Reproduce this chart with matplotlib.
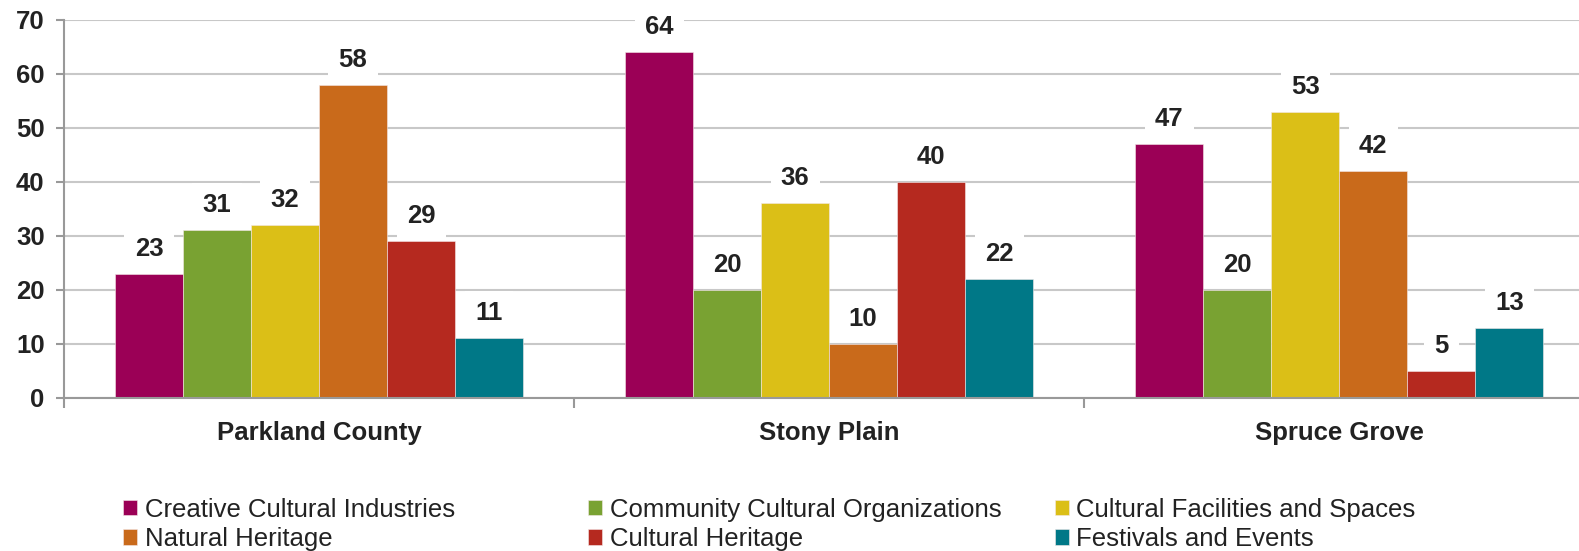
import matplotlib.pyplot as plt
import numpy as np

# data
regions = ['Parkland County', 'Stony Plain', 'Spruce Grove']
series = [
    'Creative Cultural Industries',
    'Community Cultural Organizations',
    'Cultural Facilities and Spaces',
    'Natural Heritage',
    'Cultural Heritage',
    'Festivals and Events',
]
creative = [23, 64, 47]
community = [31, 20, 20]
facilities = [32, 36, 53]
natural = [58, 10, 42]
cultural_heritage = [29, 40, 5]
festivals = [11, 22, 13]
yticks = [0, 10, 20, 30, 40, 50, 60, 70]

colors = ['#9B0056', '#79A232', '#DBBF17', '#C96A1B', '#B5291F', '#007887']
all_values = [creative, community, facilities, natural, cultural_heritage, festivals]

plt.rcParams['font.family'] = ['Liberation Sans', 'DejaVu Sans']

fig = plt.figure(figsize=(15.79, 5.51), dpi=100)
ax = fig.add_axes([0.0405, 0.278, 0.9595, 0.686])

x = np.arange(len(regions))
bar_w = 0.8 / len(series)
handles = []
for i, (vals, col) in enumerate(zip(all_values, colors)):
    pos = x - 0.4 + bar_w * (i + 0.5)
    b = ax.bar(pos, vals, width=bar_w, color=col, edgecolor='#f4e8e8',
               linewidth=0.4, zorder=2, label=series[i])
    handles.append(b)
    for px, v in zip(pos, vals):
        ax.annotate(str(v), (px, v), xytext=(0, 18), textcoords='offset points',
                    ha='center', va='center', fontsize=18.5, fontweight='bold',
                    color='#222222', zorder=3,
                    bbox=dict(boxstyle='square,pad=0.4', fc='white', ec='none'))

ax.set_ylim(0, 70)
ax.set_xlim(-0.5, 2.47)
ax.set_yticks(yticks)
ax.yaxis.grid(True, color='#c8c8c8', linewidth=1.5, zorder=0)
ax.set_axisbelow(True)

ax.set_xticks(x)
ax.set_xticklabels(regions, fontsize=18.5, fontweight='bold', color='#222222')
ax.set_xticks([-0.5, 0.5, 1.5], minor=True)
ax.tick_params(axis='x', which='major', length=0, pad=17)
ax.tick_params(axis='x', which='minor', length=7, width=1.5, color='#999999')
ax.tick_params(axis='y', length=6, width=1.5, color='#999999', labelsize=18.5, pad=8)
for lbl in ax.get_yticklabels():
    lbl.set_fontweight('bold')
    lbl.set_color('#222222')

for s in ['top', 'right']:
    ax.spines[s].set_visible(False)
ax.spines['left'].set_color('#999999')
ax.spines['left'].set_linewidth(1.5)
ax.spines['bottom'].set_color('#999999')
ax.spines['bottom'].set_linewidth(1.5)

# legend, three columns placed separately
col_x = [0.0697, 0.3643, 0.6597]
for c in range(3):
    hs = [handles[c], handles[c + 3]]
    lg = fig.legend(hs, [series[c], series[c + 3]], loc='upper left',
                    bbox_to_anchor=(col_x[c], 0.12), ncol=1, frameon=False,
                    handlelength=0.55, handleheight=0.55,
                    handletextpad=0.3, labelspacing=0.2, borderpad=0,
                    prop={'family': ['Liberation Sans'], 'size': 18.5})
    for t in lg.get_texts():
        t.set_color('#222222')

fig.savefig('out.png', dpi=100)
